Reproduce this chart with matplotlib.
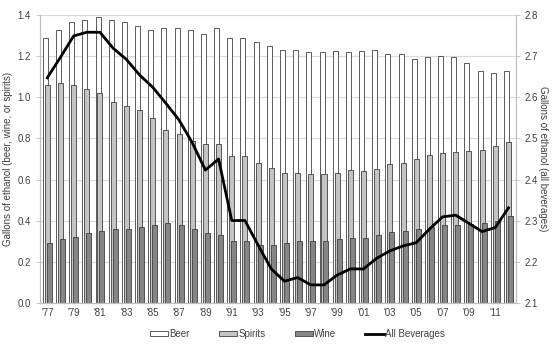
import matplotlib.pyplot as plt
import numpy as np

plt.rcParams['font.family'] = ['Liberation Sans', 'DejaVu Sans']

years = list(range(1977, 2013))
beer = [1.29, 1.33, 1.37, 1.38, 1.39, 1.38, 1.37, 1.35, 1.33, 1.34, 1.34, 1.33,
        1.31, 1.34, 1.29, 1.29, 1.27, 1.25, 1.23, 1.23, 1.22, 1.22, 1.225, 1.22,
        1.227, 1.23, 1.213, 1.21, 1.19, 1.197, 1.20, 1.197, 1.17, 1.13, 1.117, 1.129]
spirits = [1.06, 1.07, 1.06, 1.04, 1.02, 0.98, 0.96, 0.94, 0.90, 0.84, 0.82, 0.79,
           0.773, 0.773, 0.714, 0.714, 0.682, 0.654, 0.633, 0.633, 0.625, 0.625, 0.633, 0.645,
           0.643, 0.65, 0.676, 0.682, 0.70, 0.718, 0.728, 0.736, 0.74, 0.744, 0.765, 0.783]
wine = [0.29, 0.31, 0.32, 0.34, 0.35, 0.36, 0.36, 0.37, 0.38, 0.39, 0.38, 0.36,
        0.34, 0.33, 0.30, 0.30, 0.28, 0.28, 0.29, 0.30, 0.30, 0.30, 0.31, 0.315,
        0.315, 0.328, 0.342, 0.35, 0.358, 0.37, 0.38, 0.38, 0.385, 0.39, 0.40, 0.42]
all_bev = [2.648, 2.698, 2.75, 2.759, 2.759, 2.72, 2.693, 2.655, 2.625, 2.586, 2.545, 2.49,
           2.423, 2.45, 2.30, 2.30, 2.24, 2.182, 2.152, 2.161, 2.143, 2.143, 2.167, 2.182,
           2.182, 2.208, 2.226, 2.238, 2.246, 2.279, 2.309, 2.313, 2.293, 2.273, 2.283, 2.331]
tick_labels = ["'%02d" % (y % 100) for y in years[::2]]

x = np.arange(len(years))
w = 0.38
edge = '#404040'
txt = '#404040'

fig = plt.figure(figsize=(5.59, 3.51), dpi=100)
ax = fig.add_axes([0.0716, 0.138, 0.851, 0.818])
ax2 = ax.twinx()

b1 = ax.bar(x - 0.15, beer, w, color='white', edgecolor=edge, linewidth=0.6, label='Beer', zorder=2)
b2 = ax.bar(x, spirits, w, color='#c4c4c4', edgecolor=edge, linewidth=0.6, label='Spirits', zorder=2)
b3 = ax.bar(x + 0.15, wine, w, color='#858585', edgecolor=edge, linewidth=0.6, label='Wine', zorder=2)
ln, = ax2.plot(x, all_bev, color='black', lw=2, label='All Beverages')

ax.set_xlim(-0.55, len(years) - 0.45)
ax.set_ylim(0, 1.4)
ax.set_yticks(np.arange(0, 1.41, 0.2))
ax.set_yticklabels(['%.1f' % v for v in np.arange(0, 1.41, 0.2)])
ax2.set_ylim(2.1, 2.8)
ax2.set_yticks(np.arange(2.1, 2.81, 0.1))
ax2.set_yticklabels(['%.1f' % v for v in np.arange(2.1, 2.81, 0.1)])
ax.set_xticks(x[::2])
ax.set_xticklabels(tick_labels)

ax.grid(axis='y', color='#d9d9d9', lw=0.8, zorder=0)
ax.set_axisbelow(True)
for a in (ax, ax2):
    for s in a.spines.values():
        s.set_color('#bfbfbf')
    a.spines['top'].set_visible(False)
    a.tick_params(labelsize=7, colors=txt, length=3, width=0.6)
    a.tick_params(axis='y', color='#bfbfbf')
ax.tick_params(axis='x', length=0, pad=4)

ax.set_ylabel('Gallons of ethanol (beer, wine, or spirits)', fontsize=7, color=txt, labelpad=3)
ax2.set_ylabel('Gallons of ethanol (all beverages)', fontsize=7, color=txt, rotation=270, labelpad=7)

fig.legend([b1, b2, b3, ln], ['Beer', 'Spirits', 'Wine', 'All Beverages'],
           loc='center', bbox_to_anchor=(0.532, 0.048), ncol=4, frameon=False,
           fontsize=7, handlelength=1.9, handleheight=0.5, columnspacing=3.0,
           handletextpad=0.1, labelcolor=txt)

fig.savefig('out.png', dpi=100)
